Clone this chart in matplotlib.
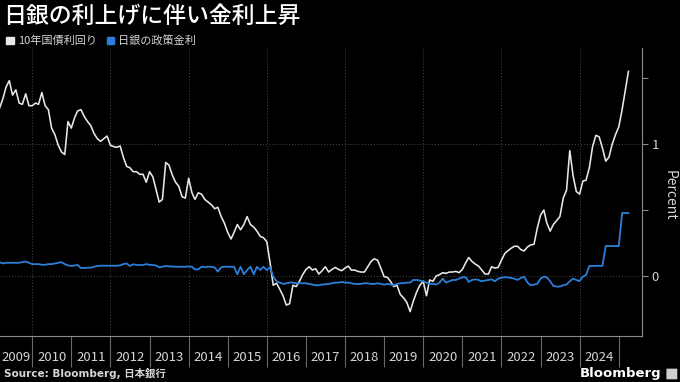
import pandas as pd
import matplotlib
matplotlib.use('Agg')
import matplotlib.pyplot as plt
from matplotlib.patches import Patch, FancyBboxPatch

plt.rcParams['font.family'] = ['Noto Sans CJK JP', 'DejaVu Sans']

# monthly, Mar 2009 .. Apr 2025
dates = pd.date_range('2009-03-01', periods=194, freq='MS')

jgb10y = [
    1.27, 1.34, 1.43, 1.48, 1.37, 1.41, 1.31, 1.30, 1.38, 1.29,
    1.29, 1.31, 1.30, 1.39, 1.29, 1.26, 1.12, 1.07, 0.99, 0.94, 0.92, 1.17,
    1.12, 1.20, 1.25, 1.26, 1.21, 1.17, 1.14, 1.08, 1.04, 1.02, 1.04, 1.06,
    0.99, 0.98, 0.975, 0.985, 0.90, 0.83, 0.82, 0.79, 0.79, 0.77, 0.77, 0.71,
    0.79, 0.75, 0.66, 0.56, 0.58, 0.86, 0.84, 0.765, 0.71, 0.68, 0.60, 0.59,
    0.74, 0.63, 0.58, 0.63, 0.62, 0.58, 0.56, 0.54, 0.51, 0.52, 0.45, 0.40,
    0.33, 0.28, 0.33, 0.39, 0.35, 0.39, 0.45, 0.39, 0.37, 0.34, 0.30, 0.29,
    0.26, 0.10, -0.07, -0.055, -0.10, -0.15, -0.22, -0.21, -0.07, -0.08, -0.04, 0.01,
    0.05, 0.07, 0.045, 0.055, 0.015, 0.04, 0.07, 0.03, 0.05, 0.065, 0.05, 0.04,
    0.06, 0.075, 0.045, 0.045, 0.035, 0.03, 0.03, 0.07, 0.11, 0.13, 0.12, 0.06,
    -0.005, -0.01, -0.04, -0.08, -0.07, -0.14, -0.165, -0.20, -0.27, -0.19, -0.12, -0.07,
    -0.04, -0.15, -0.03, -0.04, 0.0, 0.01, 0.025, 0.02, 0.03, 0.03, 0.035, 0.025,
    0.05, 0.10, 0.14, 0.11, 0.09, 0.075, 0.045, 0.015, 0.015, 0.07, 0.06, 0.065,
    0.12, 0.17, 0.19, 0.21, 0.225, 0.225, 0.20, 0.19, 0.22, 0.235, 0.24, 0.36,
    0.46, 0.50, 0.40, 0.34, 0.39, 0.42, 0.45, 0.59, 0.65, 0.95, 0.76, 0.64,
    0.62, 0.72, 0.725, 0.82, 0.98, 1.065, 1.055, 0.97, 0.87, 0.90, 1.00, 1.07,
    1.13, 1.26, 1.40, 1.55,
]

boj_rate = [
    0.105, 0.095, 0.10, 0.10, 0.10, 0.10, 0.10, 0.105, 0.11, 0.10,
    0.09, 0.09, 0.09, 0.085, 0.085, 0.09, 0.09, 0.095, 0.10, 0.105, 0.09, 0.08,
    0.076, 0.08, 0.083, 0.06, 0.06, 0.063, 0.063, 0.07, 0.075, 0.078, 0.078, 0.078,
    0.078, 0.078, 0.078, 0.08, 0.09, 0.095, 0.076, 0.088, 0.085, 0.083, 0.083, 0.09,
    0.085, 0.083, 0.08, 0.066, 0.07, 0.076, 0.073, 0.072, 0.07, 0.07, 0.07, 0.07,
    0.072, 0.07, 0.05, 0.05, 0.07, 0.068, 0.07, 0.07, 0.065, 0.033, 0.066, 0.07,
    0.07, 0.07, 0.07, 0.013, 0.07, 0.013, 0.045, 0.07, 0.013, 0.07, 0.045, 0.07,
    0.045, 0.066, -0.005, -0.04, -0.05, -0.06, -0.055, -0.05, -0.05, -0.055, -0.055, -0.055,
    -0.055, -0.06, -0.065, -0.07, -0.07, -0.065, -0.063, -0.06, -0.055, -0.05, -0.05, -0.045,
    -0.05, -0.05, -0.055, -0.06, -0.06, -0.06, -0.055, -0.055, -0.06, -0.06, -0.055, -0.06,
    -0.065, -0.06, -0.065, -0.07, -0.06, -0.055, -0.055, -0.05, -0.05, -0.03, -0.03, -0.035,
    -0.04, -0.05, -0.06, -0.06, -0.065, -0.05, -0.02, -0.05, -0.04, -0.03, -0.03, -0.02,
    -0.01, -0.01, -0.045, -0.03, -0.025, -0.03, -0.04, -0.035, -0.03, -0.025, -0.04, -0.02,
    -0.013, -0.01, -0.01, -0.015, -0.02, -0.03, -0.015, -0.005, -0.05, -0.07, -0.065, -0.06,
    -0.02, -0.005, -0.01, -0.04, -0.075, -0.08, -0.08, -0.07, -0.065, -0.04, -0.02, -0.03,
    -0.038, -0.005, 0.008, 0.076, 0.076, 0.077, 0.077, 0.077, 0.227, 0.227, 0.227, 0.227,
    0.227, 0.477, 0.477, 0.477,
]

years = list(range(2009, 2025))
year_labels = [str(y) for y in years]
grid_years = list(range(2010, 2025, 2))

title = '日銀の利上げに伴い金利上昇'
series_names = ['10年国債利回り', '日銀の政策金利']
source = 'Source: Bloomberg, 日本銀行'

WHITE = '#e8e8e8'
BLUE = '#2b7fd8'
GRID = '#4a4a4a'
TXT = '#d6d6d6'

x_left = pd.Timestamp('2009-03-06')
x_right = pd.Timestamp('2025-08-05')

fig = plt.figure(figsize=(6.8, 3.82), dpi=100, facecolor='black')
ax = fig.add_axes([0.0, 0.1204, 0.944, 0.754], facecolor='black')

for y in grid_years:
    ax.axvline(pd.Timestamp(f'{y}-01-01'), color=GRID, lw=0.7, ls=(0, (1, 2)), zorder=1)
ax.grid(axis='y', which='major', color=GRID, lw=0.7, ls=(0, (1, 2)), zorder=1)

ax.plot(dates, jgb10y, color=WHITE, lw=1.15, zorder=3)
ax.plot(dates, boj_rate, color=BLUE, lw=1.3, zorder=4)

ax.set_xlim(x_left, x_right)
ax.set_ylim(-0.4545, 1.727)

# x axis: long year separators, labels centered in the visible part of each year
ax.set_xticks([pd.Timestamp(f'{y}-01-01') for y in range(2010, 2026)])
ax.set_xticklabels([])
label_pos = []
for y in years:
    start = max(pd.Timestamp(f'{y}-01-01'), x_left)
    end = pd.Timestamp(f'{y + 1}-01-01')
    label_pos.append(start + (end - start) / 2)
ax.set_xticks(label_pos, labels=year_labels, minor=True)
ax.tick_params(axis='x', which='major', length=22, width=0.8, color='#6a6a6a', direction='out')
ax.tick_params(axis='x', which='minor', length=0, pad=11, labelsize=9.5, labelcolor=TXT)

ax.yaxis.tick_right()
ax.set_yticks([0, 1])
ax.set_yticklabels(['0', '1'])
ax.set_yticks([0.5, 1.5], minor=True)
ax.tick_params(axis='y', which='both', length=4, width=0.8, color='#8a8a8a',
               labelsize=9.5, labelcolor=TXT, pad=3)

for side in ['left', 'top']:
    ax.spines[side].set_visible(False)
for side in ['right', 'bottom']:
    ax.spines[side].set_color('#8a8a8a')
    ax.spines[side].set_linewidth(0.8)

fig.text(0.004, 0.988, title, color='white', fontsize=16.5, fontweight='medium',
         va='top', ha='left')

handles = [Patch(color=WHITE), Patch(color=BLUE)]
fig.legend(handles, series_names, loc='center left', bbox_to_anchor=(-0.006, 0.893),
           ncol=2, frameon=False, fontsize=8, labelcolor=TXT,
           handlelength=0.7, handleheight=0.7, handletextpad=0.35, columnspacing=0.9)

fig.text(0.985, 0.49, 'Percent', color=TXT, fontsize=10, rotation=270,
         ha='center', va='center')

fig.text(0.006, 0.022, source, color=TXT, fontsize=7.5, fontweight='bold',
         family=['DejaVu Sans', 'Noto Sans CJK JP'], va='center', ha='left')
fig.text(0.973, 0.022, 'Bloomberg', color='white', fontsize=9.5, fontweight='bold',
         family=['DejaVu Sans'], va='center', ha='right')
fig.patches.append(FancyBboxPatch((0.981, 0.008), 0.014, 0.026,
                                  boxstyle='round,pad=0.001', transform=fig.transFigure,
                                  facecolor='#cfcfcf', edgecolor='none'))

fig.savefig('out.png', dpi=100, facecolor='black')
